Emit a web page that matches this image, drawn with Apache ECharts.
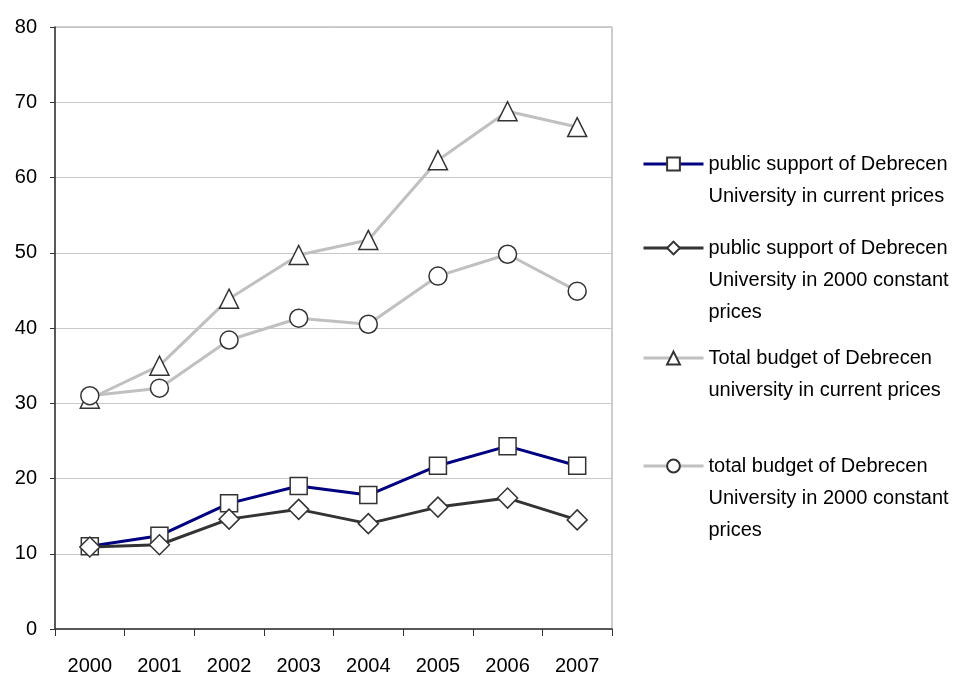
<!DOCTYPE html>
<html>
<head>
<meta charset="utf-8">
<script src="https://cdn.jsdelivr.net/npm/echarts@6/dist/echarts.min.js"></script>
<style>
  html, body { margin: 0; padding: 0; background: #fff; }
  #chart { width: 963px; height: 676px; }
</style>
</head>
<body>
<div id="chart"></div>
<script>
var years = ['2000', '2001', '2002', '2003', '2004', '2005', '2006', '2007'];
var supportCurrent = [11.0, 12.4, 16.7, 19.0, 17.8, 21.7, 24.3, 21.7];
var supportConstant = [10.9, 11.2, 14.6, 15.9, 14.0, 16.2, 17.4, 14.5];
var budgetCurrent = [30.6, 35.0, 43.9, 49.7, 51.7, 62.3, 68.8, 66.7];
var budgetConstant = [31.0, 32.0, 38.4, 41.3, 40.5, 46.9, 49.8, 44.9];

var names = [
    'public support of Debrecen\nUniversity in current prices',
    'public support of Debrecen\nUniversity in 2000 constant\nprices',
    'Total budget of Debrecen\nuniversity in current prices',
    'total budget of Debrecen\nUniversity in 2000 constant\nprices'
];

var font = "'Liberation Sans Narrow', 'Liberation Sans', Arial, sans-serif";
var chart = echarts.init(document.getElementById('chart'));

// icon sits on the first text line: pad the label with blank lines above
function legendAt(name, top) {
    var extra = name.split('\n').length - 1;
    var pad = new Array(extra + 1).join('\n');
    return {
        data: [name],
        left: 637,
        top: top - extra * 32,
        orient: 'vertical',
        itemWidth: 60,
        itemHeight: 16,
        itemGap: 0,
        lineStyle: { width: 3 },
        formatter: function (n) { return pad + n; },
        textStyle: { fontFamily: font, fontSize: 20, color: '#000', lineHeight: 32 }
    };
}

function marker(extra) {
    return Object.assign({
        type: 'line',
        showSymbol: true,
        symbolSize: 18,
        itemStyle: { color: '#fff', borderColor: '#333', borderWidth: 1.5 },
        emphasis: { disabled: true }
    }, extra);
}

var option = {
    backgroundColor: '#fff',
    animation: false,
    grid: {
        left: 55, right: 351, top: 27, bottom: 47,
        show: true, borderColor: '#9a9a9a', borderWidth: 1
    },
    legend: [
        legendAt(names[0], 143),
        legendAt(names[1], 227),
        legendAt(names[2], 337),
        legendAt(names[3], 445)
    ],
    xAxis: {
        type: 'category',
        data: years,
        boundaryGap: true,
        axisLine: { lineStyle: { color: '#333', width: 1.5 } },
        axisTick: { show: true, length: 7, inside: false, lineStyle: { color: '#333' } },
        axisLabel: { fontFamily: font, fontSize: 20, color: '#000', margin: 27 }
    },
    yAxis: {
        type: 'value',
        min: 0, max: 80, interval: 10,
        axisLine: { show: true, lineStyle: { color: '#333', width: 1.5 } },
        axisTick: { show: true, length: 5, lineStyle: { color: '#333' } },
        axisLabel: { fontFamily: font, fontSize: 20, color: '#000', margin: 18 },
        splitLine: { lineStyle: { color: '#c8c8c8', width: 1 } }
    },
    series: [
        marker({
            name: names[0], data: supportCurrent, symbol: 'rect', symbolSize: 17,
            lineStyle: { color: '#000080', width: 3 }, z: 5
        }),
        marker({
            name: names[1], data: supportConstant, symbol: 'diamond', symbolSize: 20,
            lineStyle: { color: '#333333', width: 3 }, z: 6
        }),
        marker({
            name: names[2], data: budgetCurrent, symbol: 'triangle', symbolSize: 19,
            lineStyle: { color: '#c0c0c0', width: 3 }, z: 3
        }),
        marker({
            name: names[3], data: budgetConstant, symbol: 'circle', symbolSize: 18,
            lineStyle: { color: '#c0c0c0', width: 3 }, z: 4
        })
    ]
};

chart.setOption(option);
</script>
</body>
</html>
